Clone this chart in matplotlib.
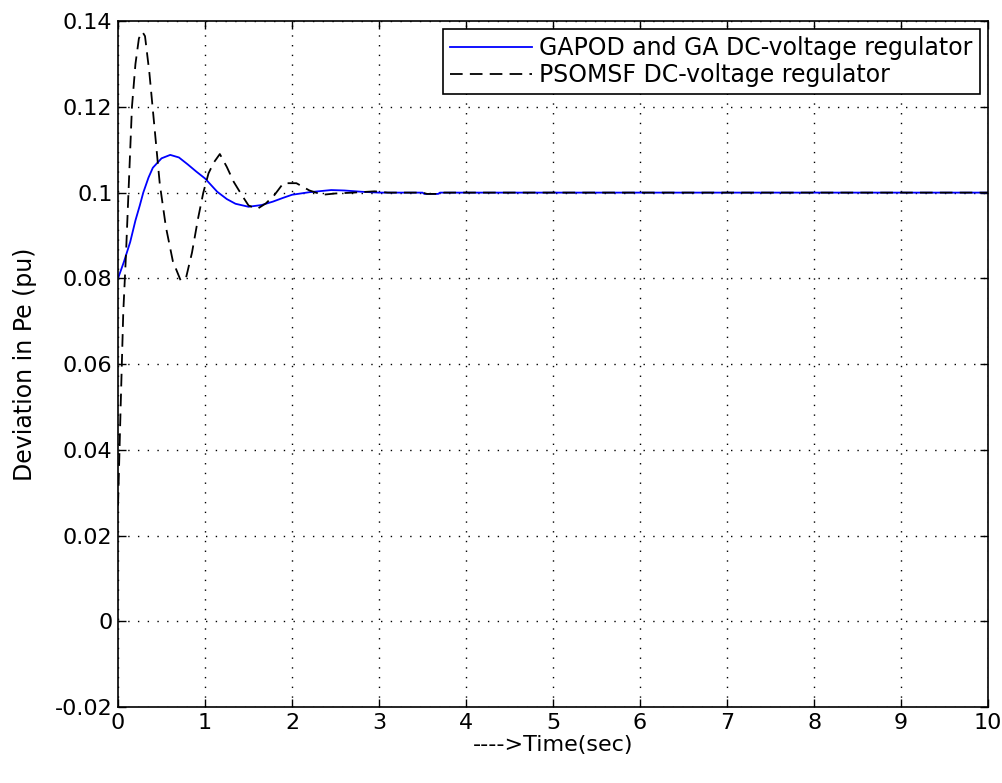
import numpy as np
import matplotlib
matplotlib.use("Agg")
import matplotlib.pyplot as plt

plt.rcParams['font.family'] = ['DejaVu Sans']

# GAPOD and GA DC-voltage regulator (blue, solid)
t_ga = [0.0, 0.07, 0.14, 0.2, 0.25, 0.29, 0.35, 0.4, 0.5, 0.6, 0.7, 0.8,
        0.9, 1.0, 1.14, 1.25, 1.35, 1.5, 1.65, 1.78, 1.9, 2.0, 2.2, 2.45,
        2.6, 2.8, 3.0, 3.5, 3.52, 3.68, 3.7, 10.0]
pe_ga = [0.08, 0.084, 0.0885, 0.0935, 0.097, 0.1, 0.1035, 0.1058, 0.108,
         0.1088, 0.1082, 0.1066, 0.1049, 0.1033, 0.1002, 0.0985, 0.0974,
         0.0967, 0.0971, 0.0979, 0.0988, 0.0995, 0.1001, 0.1006, 0.1005,
         0.1002, 0.1, 0.1, 0.0997, 0.0997, 0.1, 0.1]

# PSOMSF DC-voltage regulator (black, dashed)
t_pso = [0.0, 0.03, 0.06, 0.09, 0.12, 0.16, 0.2, 0.24, 0.28, 0.31, 0.36,
         0.42, 0.48, 0.55, 0.63, 0.72, 0.78, 0.85, 0.92, 0.98, 1.04, 1.1,
         1.17, 1.25, 1.33, 1.42, 1.5, 1.6, 1.7, 1.8, 1.9, 2.05, 2.2, 2.35,
         2.5, 2.7, 2.95, 3.1, 3.5, 3.55, 3.7, 3.75, 10.0]
pe_pso = [0.027, 0.05, 0.072, 0.085, 0.1, 0.12, 0.13, 0.136, 0.1375, 0.1365,
          0.128, 0.115, 0.102, 0.092, 0.084, 0.0795, 0.08, 0.086, 0.094,
          0.1, 0.1045, 0.107, 0.109, 0.106, 0.1025, 0.0995, 0.097, 0.0962,
          0.0975, 0.0995, 0.1022, 0.1022, 0.1005, 0.0995, 0.0998, 0.1,
          0.1003, 0.1, 0.1, 0.0997, 0.0997, 0.1, 0.1]

xticks = np.arange(0, 11, 1)
yticks = [-0.02, 0, 0.02, 0.04, 0.06, 0.08, 0.1, 0.12, 0.14]
ytick_labels = ['-0.02', '0', '0.02', '0.04', '0.06', '0.08', '0.1', '0.12', '0.14']

fs = 16

fig = plt.figure(figsize=(10.02, 7.83), dpi=100)
ax = fig.add_axes([0.1178, 0.097, 0.8683, 0.876])

ax.plot(t_ga, pe_ga, color='#0000ff', lw=1.3,
        label='GAPOD and GA DC-voltage regulator')
ax.plot(t_pso, pe_pso, color='black', lw=1.3, ls=(0, (7, 4)),
        label='PSOMSF DC-voltage regulator')

ax.set_xlim(0, 10)
ax.set_ylim(-0.02, 0.14)
ax.set_xticks(xticks)
ax.set_yticks(yticks)
ax.set_yticklabels(ytick_labels)
ax.tick_params(direction='in', top=True, right=True, length=6, width=1,
               labelsize=fs, pad=4)
ax.grid(True, color='black', ls=(0, (1, 6)), lw=1)
for s in ax.spines.values():
    s.set_linewidth(1.2)

ax.set_xlabel('---->Time(sec)', fontsize=fs, labelpad=2)
ax.set_ylabel('Deviation in Pe (pu)', fontsize=17, labelpad=13)

leg = ax.legend(loc='upper right', fontsize=17, fancybox=False,
                edgecolor='black', framealpha=1, handlelength=3.5,
                borderaxespad=0.35, labelspacing=0.1, handletextpad=0.3,
                borderpad=0.3)
leg.get_frame().set_linewidth(1.2)

fig.savefig('out.png', dpi=100)
